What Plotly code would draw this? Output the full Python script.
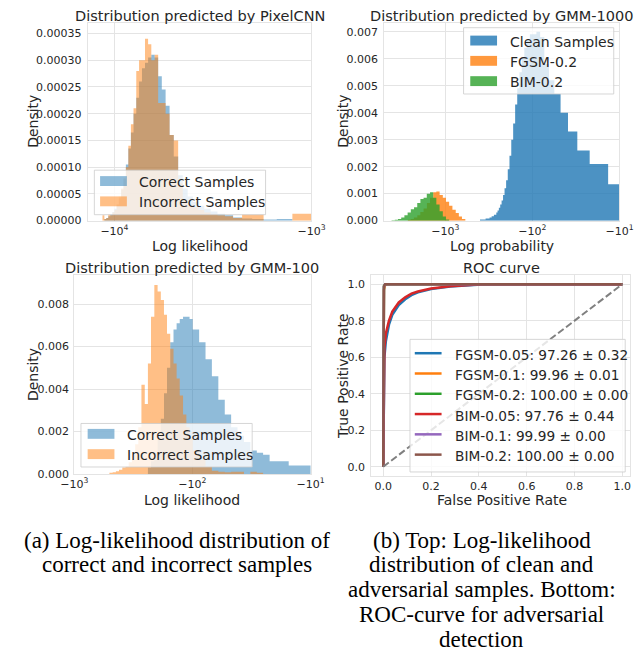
import numpy as np
import plotly.graph_objects as go

W, H = 644, 660

# ---------------- data ----------------
# (a) PixelCNN: log-likelihood bin edges and densities
pix_edges = list(np.linspace(-11500, -1000, 43))
pix_correct = [0, 0.3, 0.5, 0.8, 1.2, 1.6, 2.2, 3, 4.2, 5.8, 7.8, 10.5, 13.5, 16.5, 20, 23, 26,
               28.5, 29.5, 30.5, 31, 30.5, 27, 24.5, 21.5, 16, 12, 8.5, 6, 4.5, 3.5, 2.8, 2.2,
               1.7, 1.3, 1.0, 0.6, 0.4, 0.3, 0.2, 0.3, 0]            # x 1e-5
pix_incorrect = [1.0, 0.3, 0.5, 1.2, 1.0, 1.5, 2, 3, 4.5, 6, 8, 10, 14, 18, 21, 28, 30, 30, 34,
                 33, 30, 31, 22, 22, 20, 16, 15, 7, 4, 3, 2.5, 2, 1.5, 1.2, 1.0, 0.8, 0.5, 1.2,
                 1.2, 0, 0, 1.3]                                        # x 1e-5

# (b-top) GMM-1000
clean_edges = [-400, -345, -311, -294, -277, -260, -251.5, -243, -234.5, -226, -217.5, -209,
               -200.5, -192, -183.5, -175, -166.5, -158, -149.5, -141, -132.5, -124, -115.5,
               -107, -98.5, -90, -81.5, -73, -64.5, -56, -47.5, -39, -30.5, -22, -13.5, -5]
clean_density = [0.04, 0.08, 0.12, 0.16, 0.22, 0.30, 0.38, 0.48, 0.60, 0.75, 0.95, 1.2, 1.5,
                 1.9, 2.4, 3.0, 3.6, 4.3, 4.9, 5.5, 6.0, 6.4, 6.7, 6.9, 6.9, 7.0, 6.8, 5.8,
                 5.2, 4.7, 4.0, 3.3, 2.6, 2.1, 1.35]                    # x 1e-3
fgsm_edges = [-2700, -2500, -2300, -2100, -1940, -1780, -1630, -1500, -1380, -1270, -1165,
              -1070, -985, -905, -830, -760, -700, -645, -590]
fgsm_density = [0.3, 0.6, 1.2, 2.0, 3.2, 4.5, 6.5, 8.5, 10.5, 10.8, 9.5, 8.5, 7.0, 5.5, 4.0,
                2.8, 1.5, 0.6]                                          # x 1e-4
bim_edges = [-4150, -3810, -3500, -3215, -2955, -2715, -2495, -2290, -2105, -1935, -1780,
             -1635, -1500, -1380, -1270, -1165, -1070, -985, -905]
bim_density = [0.1, 0.3, 0.6, 1.2, 2.0, 3.0, 4.2, 5.0, 6.5, 8.0, 8.5, 10.0, 10.5, 8.5, 6.0,
               3.5, 1.5, 0.4]                                           # x 1e-4

# (a-bottom) GMM-100
g100_inc_edges = [-504, -473, -444, -418, -392, -368, -346, -325, -305, -287, -270, -253, -238,
                  -224, -210, -197, -185, -174, -164, -154, -144.5, -136, -128, -120, -112.5,
                  -105.7, -99.4, -87.7, -77.4, -68.4, -60.3, -53.2, -47.0, -41.5, -36.6, -32.3,
                  -28.5, -25.2, -22.2]
g100_inc_density = [0.05, 0.08, 0.12, 0.2, 0.3, 0.35, 0.55, 0.9, 1.4, 2.2, 4.2, 3.3, 5.2, 7.4,
                    8.9, 8.6, 8.2, 7.5, 6.6, 5.9, 5.2, 4.5, 3.7, 2.8, 2.2, 1.7, 1.1, 0.65, 0.35,
                    0.15, 0.1, 0.08, 0.1, 0.1, 0.0, 0.1, 0.05, 0.0]     # x 1e-3
g100_cor_edges = [-238, -224, -210, -197, -185, -174, -164, -154, -144.5, -136, -128, -120,
                  -112.5, -105.7, -99.4, -87.7, -77.4, -68.4, -60.3, -53.2, -47.0, -41.5,
                  -36.6, -32.3, -28.5, -25.2, -22.2, -15.3, -8]
g100_cor_density = [0.3, 0.6, 1.0, 1.7, 2.6, 3.8, 5.0, 6.2, 6.8, 7.1, 7.3, 7.4, 7.4, 7.3, 6.8,
                    6.2, 5.4, 4.6, 3.5, 2.8, 2.2, 1.8, 1.5, 1.1, 1.0, 0.9, 0.6, 0.4]  # x 1e-3

# (b-bottom) ROC curves
roc_names = ["FGSM-0.05: 97.26 ± 0.32", "FGSM-0.1: 99.96 ± 0.01", "FGSM-0.2: 100.00 ± 0.00",
             "BIM-0.05: 97.76 ± 0.44", "BIM-0.1: 99.99 ± 0.00", "BIM-0.2: 100.00 ± 0.00"]
fpr_weak = [0, 0.002, 0.005, 0.011, 0.024, 0.038, 0.065, 0.092, 0.118, 0.145, 0.2, 0.28, 0.35,
            0.41, 0.5, 1.0]
tpr_fgsm005 = [0, 0.45, 0.60, 0.687, 0.778, 0.832, 0.886, 0.917, 0.940, 0.955, 0.973, 0.987,
               0.995, 0.998, 1.0, 1.0]
tpr_bim005 = [0, 0.50, 0.65, 0.73, 0.80, 0.85, 0.90, 0.928, 0.948, 0.96, 0.976, 0.989, 0.996,
              0.999, 1.0, 1.0]
fpr_strong = [0, 0.003, 0.008, 0.02, 1.0]
tpr_fgsm01 = [0, 0.97, 0.995, 1.0, 1.0]
tpr_fgsm02 = [0, 0.99, 1.0, 1.0, 1.0]
tpr_bim01 = [0, 0.985, 1.0, 1.0, 1.0]
tpr_bim02 = [0, 0.99, 1.0, 1.0, 1.0]

# ---------------- styling ----------------
TXT = "#262626"
GRID = "#e4e4e4"
FONT = "DejaVu Sans"
C_BLUE, C_ORANGE, C_GREEN = (31, 119, 180), (255, 127, 14), (44, 160, 44)
C_RED, C_PURPLE, C_BROWN = (214, 39, 40), (148, 103, 189), (140, 86, 75)


def rgba(c, a):
    return "rgba(%d,%d,%d,%.2f)" % (c[0], c[1], c[2], a)


def px(x):
    return x / W


def py(y):
    return 1 - y / H


fig = go.Figure()


def hist(edges, dens, scale, color, alpha, ax):
    mag = [-e for e in edges]
    d = [v * scale for v in dens]
    x = [mag[0]] + mag[:-1] + [mag[-1], mag[-1]]
    y = [0] + d + [d[-1], 0]
    fig.add_trace(go.Scatter(x=x, y=y, mode="lines", line=dict(width=0, shape="hv"),
                             fill="tozeroy", fillcolor=rgba(color, alpha),
                             xaxis="x" + ax, yaxis="y" + ax, hoverinfo="skip",
                             showlegend=False))


hist(pix_edges, pix_correct, 1e-5, C_BLUE, 0.5, "")
hist(pix_edges, pix_incorrect, 1e-5, C_ORANGE, 0.5, "")
hist(clean_edges, clean_density, 1e-3, C_BLUE, 0.8, "2")
hist(fgsm_edges, fgsm_density, 1e-4, C_ORANGE, 0.8, "2")
hist(bim_edges, bim_density, 1e-4, C_GREEN, 0.8, "2")
hist(g100_cor_edges, g100_cor_density, 1e-3, C_BLUE, 0.5, "3")
hist(g100_inc_edges, g100_inc_density, 1e-3, C_ORANGE, 0.5, "3")

roc_series = [(fpr_weak, tpr_fgsm005, C_BLUE), (fpr_strong, tpr_fgsm01, C_ORANGE),
              (fpr_strong, tpr_fgsm02, C_GREEN), (fpr_weak, tpr_bim005, C_RED),
              (fpr_strong, tpr_bim01, C_PURPLE), (fpr_strong, tpr_bim02, C_BROWN)]
for (fx, ty, c), name in zip(roc_series, roc_names):
    fig.add_trace(go.Scatter(x=fx, y=ty, mode="lines", name=name,
                             line=dict(color=rgba(c, 1), width=2.5),
                             xaxis="x4", yaxis="y4", showlegend=False, hoverinfo="skip"))
fig.add_trace(go.Scatter(x=[0, 1], y=[0, 1], mode="lines",
                         line=dict(color="#808080", width=2, dash="7px,3px"),
                         xaxis="x4", yaxis="y4", showlegend=False, hoverinfo="skip"))

# ---------------- axes ----------------
tickfont = dict(family=FONT, size=11, color=TXT)
common = dict(showgrid=True, gridcolor=GRID, gridwidth=1, showline=True, linecolor=GRID,
              linewidth=1, mirror=True, ticks="", zeroline=False, tickfont=tickfont,
              fixedrange=True)
SUP = ["−10<sup>4</sup>", "−10<sup>3</sup>", "−10<sup>2</sup>", "−10<sup>1</sup>"]

fig.update_layout(
    xaxis=dict(domain=[px(77), px(311)], anchor="y", type="log", range=[4.136, 3.0],
               tickvals=[1e4, 1e3], ticktext=SUP[:2], ticklabelstandoff=0, **common),
    yaxis=dict(domain=[py(223), py(23)], anchor="x", range=[0, 0.00037],
               tickvals=[i * 0.00005 for i in range(8)], tickformat=".5f",
               ticklabelstandoff=3, **common),
    xaxis2=dict(domain=[px(387), px(633)], anchor="y2", type="log", range=[3.703, 1.0],
                tickvals=[1e3, 1e2, 1e1], ticktext=SUP[1:], ticklabelstandoff=0, **common),
    yaxis2=dict(domain=[py(223), py(23)], anchor="x2", range=[0, 0.00733],
                tickvals=[i * 0.001 for i in range(8)], tickformat=".3f",
                ticklabelstandoff=3, **common),
    xaxis3=dict(domain=[px(63), px(310)], anchor="y3", type="log", range=[3.0, 1.0],
                tickvals=[1e3, 1e2, 1e1], ticktext=SUP[1:], ticklabelstandoff=0, **common),
    yaxis3=dict(domain=[py(479), py(278)], anchor="x3", range=[0, 0.00937],
                tickvals=[i * 0.002 for i in range(5)], tickformat=".3f",
                ticklabelstandoff=2, **common),
    xaxis4=dict(domain=[px(373.5), 1.0], anchor="y4", range=[-0.05, 1.032],
                tickvals=[0, 0.2, 0.4, 0.6, 0.8, 1.0], tickformat=".1f",
                ticklabelstandoff=0, **common),
    yaxis4=dict(domain=[py(481), py(278)], anchor="x4", range=[-0.05, 1.05],
                tickvals=[0, 0.2, 0.4, 0.6, 0.8, 1.0], tickformat=".1f",
                ticklabelstandoff=3, **common),
)

# ---------------- text ----------------
ann = []


def text(s, x, y, size, rot=0, family=FONT, color=TXT, xanchor="center"):
    ann.append(dict(text=s, x=px(x), y=py(y), xref="paper", yref="paper", showarrow=False,
                    xanchor=xanchor, yanchor="middle", textangle=rot,
                    font=dict(family=family, size=size, color=color)))


text("Distribution predicted by PixelCNN", 194, 16, 14.5)
text("Distribution predicted by GMM-1000", 510, 16, 14.5)
text("Distribution predicted by GMM-100", 186, 271, 14.5)
text("ROC curve", 510, 271, 14.5)
text("Log likelihood", 194, 249, 14)
text("Log probability", 510, 249, 14)
text("Log likelihood", 186, 505, 14)
text("False Positive Rate", 510, 505, 14)
text("Density", 20, 123, 14, rot=-90)
text("Density", 344, 123, 14, rot=-90)
text("Density", 20, 379, 14, rot=-90)
text("True Positive Rate", 344, 380, 14, rot=-90)

SERIF = "Liberation Serif"
for i, s in enumerate(["(a) Log-likelihood distribution of", "correct and incorrect samples"]):
    text(s, 170, 546 + 25 * i, 23, family=SERIF, color="black")
for i, s in enumerate(["(b) Top: Log-likelihood", "distribution of clean and",
                       "adversarial samples. Bottom:", "ROC-curve for adversarial",
                       "detection"]):
    text(s, 489, 546 + 25 * i, 23, family=SERIF, color="black")

# ---------------- legends (drawn as boxes + text) ----------------
shapes = []


def legend_box(x0, y0, x1, y1):
    shapes.append(dict(type="rect", xref="paper", yref="paper", x0=px(x0), x1=px(x1),
                       y0=py(y1), y1=py(y0), fillcolor="rgba(255,255,255,0.8)",
                       line=dict(color="rgba(204,204,204,0.8)", width=1), layer="above"))


def legend_patch(x0, yc, color, alpha):
    shapes.append(dict(type="rect", xref="paper", yref="paper", x0=px(x0), x1=px(x0 + 28),
                       y0=py(yc + 5), y1=py(yc - 5), fillcolor=rgba(color, alpha),
                       line=dict(width=0), layer="above"))


def legend_line(x0, yc, color):
    shapes.append(dict(type="line", xref="paper", yref="paper", x0=px(x0), x1=px(x0 + 28),
                       y0=py(yc), y1=py(yc), line=dict(color=rgba(color, 1), width=2.5),
                       layer="above"))


legend_box(84, 172, 263, 217)
for i, (lab, c) in enumerate([("Correct Samples", C_BLUE), ("Incorrect Samples", C_ORANGE)]):
    legend_patch(90, 183 + 20.5 * i, c, 0.5)
    text(lab, 129, 184 + 20.5 * i, 14, xanchor="left")

legend_box(470, 28, 627, 95)
for i, (lab, c) in enumerate([("Clean Samples", C_BLUE), ("FGSM-0.2", C_ORANGE),
                              ("BIM-0.2", C_GREEN)]):
    legend_patch(477, 41 + 20.5 * i, c, 0.8)
    text(lab, 516, 42 + 20.5 * i, 14, xanchor="left")

legend_box(70, 428, 249, 472)
for i, (lab, c) in enumerate([("Correct Samples", C_BLUE), ("Incorrect Samples", C_ORANGE)]):
    legend_patch(77, 438.5 + 20.5 * i, c, 0.5)
    text(lab, 116, 439.5 + 20.5 * i, 14, xanchor="left")

legend_box(414, 343, 639, 477)
for i, ((fx, ty, c), name) in enumerate(zip(roc_series, roc_names)):
    legend_line(419, 357 + 20.5 * i, c)
    text(name, 459, 358.5 + 20.5 * i, 13.7, xanchor="left")

fig.update_layout(width=W, height=H, margin=dict(l=0, r=0, t=0, b=0),
                  paper_bgcolor="white", plot_bgcolor="white", showlegend=False,
                  annotations=ann, shapes=shapes)

fig.write_html("out.html")
